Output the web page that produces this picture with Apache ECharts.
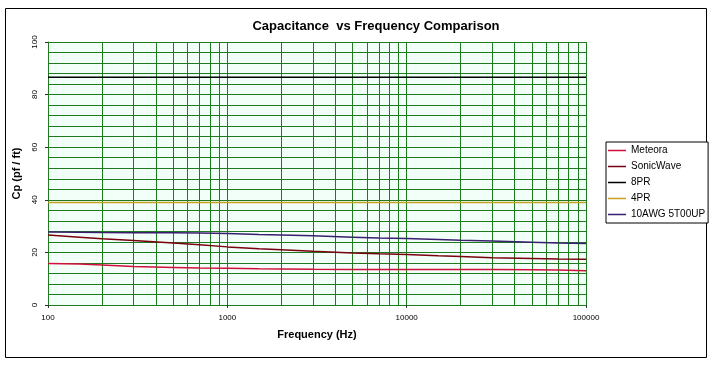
<!DOCTYPE html>
<html>
<head>
<meta charset="utf-8">
<script src="https://cdn.jsdelivr.net/npm/echarts@6/dist/echarts.min.js"></script>
<style>html,body{margin:0;padding:0;background:#fff}#c{width:713px;height:365px}</style>
</head>
<body>
<div id="c"></div>
<script>
var freqs = [100,150,200,300,500,700,1000,1500,2000,3000,5000,7000,10000,15000,20000,30000,50000,70000,100000];
var meteora   = [15.8,15.6,15.2,14.6,14.3,14.1,14.0,13.8,13.7,13.6,13.5,13.5,13.5,13.5,13.5,13.5,13.4,13.3,13.0];
var sonicWave = [26.6,25.8,25.2,24.5,23.6,22.9,22.1,21.4,21.0,20.4,19.8,19.5,19.2,18.7,18.4,18.0,17.7,17.5,17.4];
var pr8       = [86.6,86.6,86.6,86.6,86.6,86.6,86.6,86.6,86.6,86.6,86.6,86.6,86.6,86.6,86.6,86.6,86.6,86.6,86.6];
var pr4       = [39.0,39.0,39.0,39.0,39.0,39.0,39.0,39.0,39.0,39.0,39.0,39.0,39.0,39.0,39.0,39.0,39.0,39.0,39.0];
var awg10     = [27.8,27.7,27.6,27.5,27.5,27.4,27.2,26.8,26.6,26.3,25.8,25.5,25.3,24.9,24.6,24.3,23.9,23.6,23.4];
var seriesNames = ['Meteora','SonicWave','8PR','4PR','10AWG 5T00UP'];
var xTickLabels = ['100','1000','10000','100000'];
var yTickLabels = ['0','20','40','60','80','100'];

function pairs(vals){ return freqs.map(function(f,i){ return [f, vals[i]]; }); }

var gridColor = '#1f7a1f';
var colors = ['#d0103a','#7a0010','#000000','#c8a020','#3a1f6e'];
var allVals = [meteora, sonicWave, pr8, pr4, awg10];

var series = allVals.map(function(v, i){
  return {
    name: seriesNames[i], type: 'line', data: pairs(v), showSymbol: false, symbol: 'none',
    lineStyle: { color: colors[i], width: 1.5 }, itemStyle: { color: colors[i] }, z: 3, silent: true
  };
});

var chart = echarts.init(document.getElementById('c'), null, { renderer: 'canvas' });
chart.setOption({
  animation: false,
  backgroundColor: '#ffffff',
  textStyle: { fontFamily: 'Liberation Sans, Arial, sans-serif' },
  title: {
    text: 'Capacitance  vs Frequency Comparison',
    left: 371, top: 15, textAlign: 'center',
    textStyle: { fontSize: 13, fontWeight: 'bold', color: '#000', fontFamily: 'Liberation Sans, Arial, sans-serif' }
  },
  graphic: [{
    type: 'rect', shape: { x: 5.5, y: 8.5, width: 701, height: 349 },
    style: { fill: null, stroke: '#000', lineWidth: 1 }, silent: true, z: 0
  }],
  legend: {
    data: seriesNames, orient: 'vertical', left: 606, top: 142,
    backgroundColor: '#fff', borderColor: '#000', borderWidth: 1, borderRadius: 0,
    padding: [2, 3, 2, 2], itemGap: 3, itemWidth: 18, itemHeight: 1.5, icon: 'rect',
    textStyle: { fontSize: 10, color: '#000', lineHeight: 13 },
    selectedMode: false
  },
  grid: { left: 48, right: 127, top: 42, bottom: 60, show: true, backgroundColor: '#f2fff9', borderWidth: 0 },
  xAxis: {
    type: 'log', logBase: 10, min: 100, max: 100000,
    name: 'Frequency (Hz)', nameLocation: 'middle', nameGap: 24,
    nameTextStyle: { fontSize: 11, fontWeight: 'bold', color: '#000' },
    axisLine: { lineStyle: { color: gridColor } },
    axisTick: { show: true, length: 3, lineStyle: { color: '#333' } },
    axisLabel: { fontSize: 8, color: '#000', margin: 9,
      formatter: function(v){ var s = String(Math.round(v)); return xTickLabels.indexOf(s) >= 0 ? s : ''; } },
    splitLine: { show: true, lineStyle: { color: gridColor, width: 1 } },
    minorTick: { show: false, splitNumber: 9 },
    minorSplitLine: { show: true, lineStyle: { color: gridColor, width: 1 } }
  },
  yAxis: {
    type: 'value', min: 0, max: 100, interval: 20,
    name: 'Cp (pf / ft)', nameLocation: 'middle', nameGap: 26,
    nameTextStyle: { fontSize: 11, fontWeight: 'bold', color: '#000' },
    axisLine: { show: true, lineStyle: { color: gridColor } },
    axisTick: { show: true, length: 3, lineStyle: { color: '#333' } },
    axisLabel: { fontSize: 8, color: '#000', rotate: 90, margin: 9,
      formatter: function(v){ var s = String(v); return yTickLabels.indexOf(s) >= 0 ? s : ''; } },
    splitLine: { show: true, lineStyle: { color: gridColor, width: 1 } },
    minorTick: { show: false, splitNumber: 5 },
    minorSplitLine: { show: true, lineStyle: { color: gridColor, width: 1 } }
  },
  series: series
});
</script>
</body>
</html>
